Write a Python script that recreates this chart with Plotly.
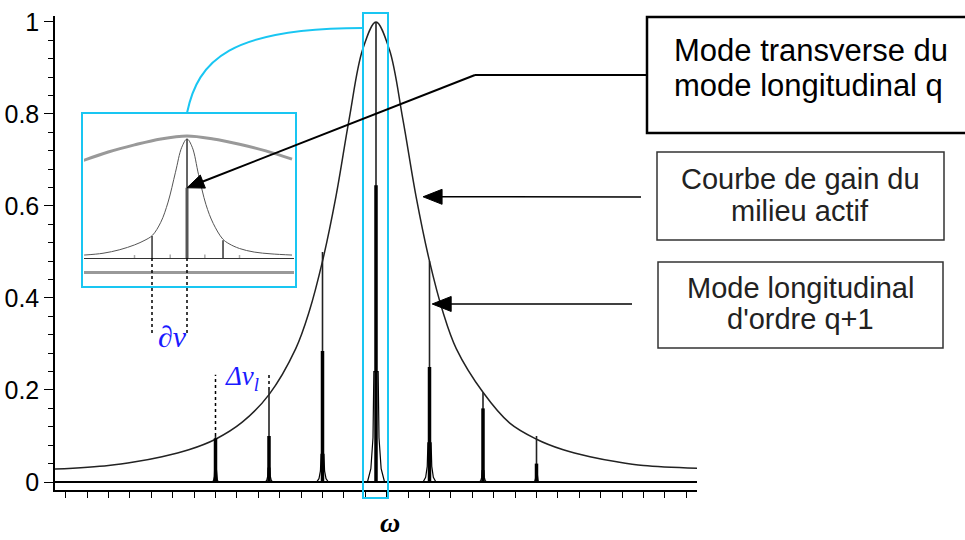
import math
import plotly.graph_objects as go

# gain curve of the active medium, x in units of the mode spacing
gain_x = [-6, -5, -4.5, -4, -3.5, -3, -2.5, -2, -1.5, -1.25, -1, -0.75, -0.5, -0.25, 0,
          0.25, 0.5, 0.75, 1, 1.25, 1.5, 2, 2.5, 3, 3.5, 4, 4.5, 5, 6]
gain_y = [0.028, 0.036, 0.044, 0.055, 0.07, 0.093, 0.13, 0.19, 0.29, 0.37, 0.48, 0.62, 0.79, 0.94, 1.0,
          0.94, 0.79, 0.62, 0.48, 0.37, 0.29, 0.195, 0.128, 0.093, 0.07, 0.055, 0.044, 0.036, 0.03]

# longitudinal modes
mode_x = [-3, -2, -1, 0, 1, 2, 3]
mode_top = [0.10, 0.20, 0.50, 1.0, 0.48, 0.195, 0.10]
mode_core = [0.095, 0.10, 0.285, 0.645, 0.25, 0.16, 0.04]
mode_foot = [0.03, 0.03, 0.06, 0.24, 0.085, 0.025, 0.02]
mode_width = [0.06, 0.07, 0.11, 0.16, 0.12, 0.07, 0.05]

# inset: zoom on mode q
inset_gain_x = [-1.0, -0.75, -0.5, -0.25, 0, 0.25, 0.5, 0.75, 1.0]
inset_gain_y = [0.815, 0.89, 0.95, 1.0, 1.025, 1.0, 0.955, 0.9, 0.83]
inset_mode_x = [-0.98, -0.8, -0.64, -0.5, -0.4, -0.33, -0.25, -0.18, -0.11, -0.05, 0,
                0.05, 0.11, 0.18, 0.25, 0.34, 0.4, 0.5, 0.64, 0.8, 1.0]
inset_mode_y = [0.025, 0.04, 0.07, 0.11, 0.15, 0.19, 0.30, 0.47, 0.72, 0.93, 1.0,
                0.93, 0.70, 0.45, 0.29, 0.16, 0.12, 0.08, 0.05, 0.035, 0.025]
inset_lines_x = [-0.333, 0, 0.343]
inset_lines_top = [0.185, 1.0, 0.15]
inset_core = 0.59
inset_small_x = [-0.5, -0.16, 0.17, 0.5]
inset_small_y = [0.025, 0.03, 0.03, 0.025]

# points the arrows aim at (gain curve, mode q+1)
gain_point = (0.88, 0.62)
mode_q1_point = (1.05, 0.387)

CYAN = '#19c6f2'
BLUE = '#1a1aff'

XR = [-6, 6]
YR = [-0.0174, 1.013]
X2R = [-0.981, 1.019]
Y2R = [-0.109, 1.218]

# plot area in pixels: x 55..697, y 16..490
def px(x):
    return (x - 55) / 642.0

def py(y):
    return (490 - y) / 474.0

def main_pix(x, y):
    return 55 + (x - XR[0]) / (XR[1] - XR[0]) * 642, 490 - (y - YR[0]) / (YR[1] - YR[0]) * 474

def inset_pix(x, y):
    return 84 + (x - X2R[0]) / (X2R[1] - X2R[0]) * 210, 271 - (y - Y2R[0]) / (Y2R[1] - Y2R[0]) * 158

def vlines(xs, ys):
    X, Y = [], []
    for x, y in zip(xs, ys):
        X += [x, x, None]
        Y += [0, y, None]
    return X, Y

fx = [-1, -0.6, -0.35, -0.25, 0.25, 0.35, 0.6, 1]
fy = [0, 0.12, 0.4, 1, 1, 0.4, 0.12, 0]
foot_x, foot_y = [], []
for c, h, w in zip(mode_x, mode_foot, mode_width):
    foot_x += [c + f * w for f in fx] + [None]
    foot_y += [h * f for f in fy] + [None]

fig = go.Figure()
fig.add_trace(go.Scatter(x=gain_x, y=gain_y, mode='lines', line=dict(color='#222', width=1.5, shape='spline')))
tx, ty = vlines(mode_x, mode_top)
fig.add_trace(go.Scatter(x=tx, y=ty, mode='lines', line=dict(color='#222', width=1.6)))
cx, cy = vlines(mode_x, mode_core)
fig.add_trace(go.Scatter(x=cx, y=cy, mode='lines', line=dict(color='black', width=3.5)))
fig.add_trace(go.Scatter(x=foot_x, y=foot_y, mode='lines', line=dict(color='black', width=1.2)))

# inset traces
fig.add_trace(go.Scatter(x=inset_gain_x, y=inset_gain_y, xaxis='x2', yaxis='y2', mode='lines',
                         line=dict(color='#999', width=3, shape='spline')))
fig.add_trace(go.Scatter(x=inset_mode_x, y=inset_mode_y, xaxis='x2', yaxis='y2', mode='lines',
                         line=dict(color='#555', width=1, shape='spline')))
ix, iy = vlines(inset_lines_x, inset_lines_top)
fig.add_trace(go.Scatter(x=ix, y=iy, xaxis='x2', yaxis='y2', mode='lines', line=dict(color='#333', width=1.5)))
fig.add_trace(go.Scatter(x=[0, 0], y=[0, inset_core], xaxis='x2', yaxis='y2', mode='lines',
                         line=dict(color='#555', width=3)))
sx, sy = vlines(inset_small_x, inset_small_y)
fig.add_trace(go.Scatter(x=sx, y=sy, xaxis='x2', yaxis='y2', mode='lines', line=dict(color='#aaa', width=1.5)))

shapes = []
# cyan frame round mode q and inset frame, connector
shapes.append(dict(type='rect', xref='paper', yref='paper', x0=px(363), x1=px(388), y0=py(498), y1=py(13),
                   line=dict(color=CYAN, width=2)))
shapes.append(dict(type='rect', xref='paper', yref='paper', x0=px(82), x1=px(296), y0=py(287), y1=py(113),
                   line=dict(color=CYAN, width=2)))
shapes.append(dict(type='path', xref='paper', yref='paper',
                   path='M %f,%f C %f,%f %f,%f %f,%f' % (px(187), py(113), px(198), py(60),
                                                         px(230), py(28), px(363), py(28)),
                   line=dict(color=CYAN, width=2)))
# dotted guides for the spacings
for xx in [152, 187]:
    shapes.append(dict(type='line', xref='paper', yref='paper', x0=px(xx), x1=px(xx), y0=py(258), y1=py(335),
                       line=dict(color='black', width=1.5, dash='dot')))
for c, h in zip(mode_x[:2], mode_top[:2]):
    shapes.append(dict(type='line', xref='x', yref='y', x0=c, x1=c, y0=h, y1=0.233,
                       line=dict(color='black', width=1.5, dash='dot')))
# text boxes
shapes.append(dict(type='rect', xref='paper', yref='paper', x0=px(647), x1=px(980), y0=py(133), y1=py(17),
                   line=dict(color='black', width=2.5)))
shapes.append(dict(type='rect', xref='paper', yref='paper', x0=px(657), x1=px(944), y0=py(240), y1=py(152),
                   line=dict(color='#333', width=1.5)))
shapes.append(dict(type='rect', xref='paper', yref='paper', x0=px(658), x1=px(943), y0=py(348), y1=py(262),
                   line=dict(color='#333', width=1.5)))
shapes.append(dict(type='line', xref='paper', yref='paper', x0=px(475), x1=px(647), y0=py(75), y1=py(75),
                   line=dict(color='black', width=2)))

def arrow(tail, tip, length, half, width):
    dx, dy = tip[0] - tail[0], tip[1] - tail[1]
    d = math.hypot(dx, dy)
    ux, uy = dx / d, dy / d
    bx, by = tip[0] - ux * length, tip[1] - uy * length
    shapes.append(dict(type='line', xref='paper', yref='paper', x0=px(tail[0]), y0=py(tail[1]),
                       x1=px(bx + ux * 2), y1=py(by + uy * 2), line=dict(color='black', width=width)))
    pts = [tip, (bx - uy * half, by + ux * half), (bx + uy * half, by - ux * half)]
    path = 'M ' + ' L '.join('%f,%f' % (px(a), py(b)) for a, b in pts) + ' Z'
    shapes.append(dict(type='path', xref='paper', yref='paper', path=path,
                       fillcolor='black', line=dict(color='black', width=1)))

arrow((475, 75), inset_pix(0, inset_core), 17, 7, 2)
arrow((641, 197), main_pix(*gain_point), 19, 7.5, 1.5)
arrow((632, 304), main_pix(*mode_q1_point), 19, 7.5, 1.5)

annotations = []

def label(text, x, y, size, color='black', family='Liberation Sans', xanchor='center', yanchor='middle'):
    annotations.append(dict(xref='paper', yref='paper', x=px(x), y=py(y), text=text, showarrow=False,
                            xanchor=xanchor, yanchor=yanchor,
                            font=dict(family=family, size=size, color=color)))

label('Mode transverse du', 672, 51, 31, xanchor='left')
label('mode longitudinal q', 672, 86, 31, xanchor='left')
label('Courbe de gain du', 800, 179, 29, color='#222')
label('milieu actif', 800, 211, 29, color='#222')
label('Mode longitudinal', 800, 288, 29, color='#222')
label("d'ordre q+1", 800, 319, 29, color='#222')
label('<i>∂ν</i>', 172, 336, 30, color=BLUE, family='Liberation Serif')
label('<i>Δν<sub>l</sub></i>', 242, 378, 27, color=BLUE, family='Liberation Serif')
label('<i><b>ω</b></i>', 390, 540, 28, family='Liberation Serif', yanchor='bottom')

fig.update_layout(
    width=965, height=540, margin=dict(l=55, r=268, t=16, b=50),
    paper_bgcolor='white', plot_bgcolor='white', showlegend=False,
    shapes=shapes, annotations=annotations,
    xaxis=dict(range=XR, showline=True, linecolor='black', linewidth=1.5, ticks='outside',
               ticklen=6, tickwidth=1.2, tickcolor='black', tick0=0.2, dtick=0.4,
               showticklabels=False, showgrid=False, zeroline=False, automargin=False),
    yaxis=dict(range=YR, showline=True, linecolor='black', linewidth=1.5, ticks='outside',
               ticklen=9, tickwidth=1.2, tickcolor='black', tick0=0, dtick=0.2,
               minor=dict(dtick=0.04, ticks='outside', ticklen=5, tickwidth=1.2, tickcolor='black', showgrid=False),
               showgrid=False, zeroline=True, zerolinecolor='black', zerolinewidth=1.5, automargin=False,
               tickfont=dict(family='Liberation Sans', size=25, color='black')),
    xaxis2=dict(domain=[px(84), px(294)], range=X2R, anchor='y2', showline=True,
                linecolor='#999', linewidth=2.5, ticks='', showticklabels=False, showgrid=False, zeroline=False),
    yaxis2=dict(domain=[py(271), py(113)], range=Y2R, anchor='x2', showline=False,
                showticklabels=False, showgrid=False, zeroline=True, zerolinecolor='#333', zerolinewidth=1),
)

# the page's default body margin would shift the figure by 8px
fig.write_html("out.html", config={'displayModeBar': False},
               post_script="document.body.style.margin='0px';")
